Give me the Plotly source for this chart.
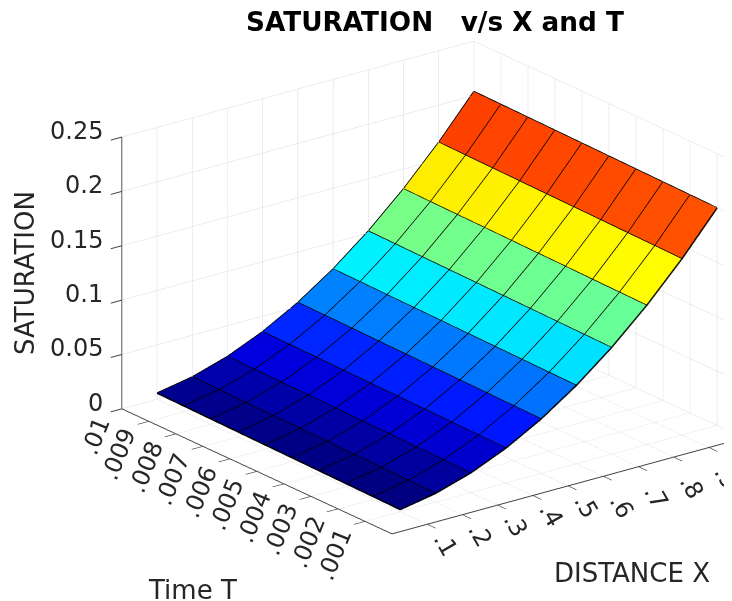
import math
import plotly.graph_objects as go

distance_x = [0.1, 0.2, 0.3, 0.4, 0.5, 0.6, 0.7, 0.8, 0.9, 1.0]
time_t = [0.001, 0.002, 0.003, 0.004, 0.005, 0.006, 0.007, 0.008, 0.009, 0.010]
# saturation[t_index][x_index]
saturation = [
    [0.0020, 0.0080, 0.0180, 0.0320, 0.0500, 0.0720, 0.0980, 0.1280, 0.1620, 0.2000],
    [0.0024, 0.0084, 0.0184, 0.0324, 0.0504, 0.0724, 0.0984, 0.1284, 0.1624, 0.2004],
    [0.0028, 0.0088, 0.0188, 0.0328, 0.0508, 0.0728, 0.0988, 0.1288, 0.1628, 0.2008],
    [0.0032, 0.0092, 0.0192, 0.0332, 0.0512, 0.0732, 0.0992, 0.1292, 0.1632, 0.2012],
    [0.0036, 0.0096, 0.0196, 0.0336, 0.0516, 0.0736, 0.0996, 0.1296, 0.1636, 0.2016],
    [0.0040, 0.0100, 0.0200, 0.0340, 0.0520, 0.0740, 0.1000, 0.1300, 0.1640, 0.2020],
    [0.0044, 0.0104, 0.0204, 0.0344, 0.0524, 0.0744, 0.1004, 0.1304, 0.1644, 0.2024],
    [0.0048, 0.0108, 0.0208, 0.0348, 0.0528, 0.0748, 0.1008, 0.1308, 0.1648, 0.2028],
    [0.0052, 0.0112, 0.0212, 0.0352, 0.0532, 0.0752, 0.1012, 0.1312, 0.1652, 0.2032],
    [0.0056, 0.0116, 0.0216, 0.0356, 0.0536, 0.0756, 0.1016, 0.1316, 0.1656, 0.2036],
]
x_ticks = [0.1, 0.2, 0.3, 0.4, 0.5, 0.6, 0.7, 0.8, 0.9]
x_tick_labels = [".1", ".2", ".3", ".4", ".5", ".6", ".7", ".8", ".9"]
x_label_drop = [20, 20, 20, 20, 20, 30, 30, 30, 30]
t_ticks = [0.001, 0.002, 0.003, 0.004, 0.005, 0.006, 0.007, 0.008, 0.009, 0.01]
t_tick_labels = [".001", ".002", ".003", ".004", ".005", ".006", ".007", ".008", ".009", ".01"]
z_ticks = [0, 0.05, 0.1, 0.15, 0.2, 0.25]
z_tick_labels = ["0", "0.05", "0.1", "0.15", "0.2", "0.25"]
title_text = "SATURATION   v/s X and T"

JET = [[0, "rgb(0,0,128)"], [0.125, "rgb(0,0,255)"], [0.375, "rgb(0,255,255)"],
       [0.625, "rgb(255,255,0)"], [0.875, "rgb(255,0,0)"], [1, "rgb(128,0,0)"]]

nt, nx = len(time_t), len(distance_x)
vx, vy, vz = [], [], []
for it in range(nt):
    for ix in range(nx):
        vx.append(distance_x[ix]); vy.append(time_t[it]); vz.append(saturation[it][ix])
I, J, K, cell = [], [], [], []
for it in range(nt - 1):
    for ix in range(nx - 1):
        a = it * nx + ix
        b, c, d = a + 1, a + nx + 1, a + nx
        I += [a, a]; J += [b, c]; K += [c, d]
        cell += [saturation[it][ix]] * 2

mesh = go.Mesh3d(x=vx, y=vy, z=vz, i=I, j=J, k=K, intensity=cell, intensitymode="cell",
                 colorscale=JET, cmin=min(vz), cmax=max(vz), showscale=False, flatshading=True,
                 lighting=dict(ambient=1, diffuse=0, specular=0, roughness=1, fresnel=0),
                 hoverinfo="skip")

lx, ly, lz = [], [], []
for it in range(nt):
    for ix in range(nx):
        lx.append(distance_x[ix]); ly.append(time_t[it]); lz.append(saturation[it][ix])
    lx.append(None); ly.append(None); lz.append(None)
for ix in range(nx):
    for it in range(nt):
        lx.append(distance_x[ix]); ly.append(time_t[it]); lz.append(saturation[it][ix])
    lx.append(None); ly.append(None); lz.append(None)
edges = go.Scatter3d(x=lx, y=ly, z=lz, mode="lines", line=dict(color="black", width=3),
                     hoverinfo="skip", showlegend=False)

fig = go.Figure([mesh, edges])

az = math.radians(37.5); el = math.radians(20.8)
a_, b_ = math.cos(az), math.sin(az)
d = (-b_ * math.cos(el), -a_ * math.cos(el), math.sin(el))
r = (a_, -b_, 0)
u = (math.sin(el) * b_, math.sin(el) * a_, math.cos(el))
scale = 1.477
S = 443.3
dist = 1.0
shift_r, shift_u = 87 / S, 31 / S
c = tuple(-shift_r * r[n] - shift_u * u[n] for n in range(3))
eye = tuple(c[n] + dist * d[n] for n in range(3))

GRID = "#dcdcdc"; AX = "#404040"; FONT = "DejaVu Sans"; TXT = "#262626"
def axis(vals, text, rng):
    return dict(range=rng, tickmode="array", tickvals=vals, ticktext=text, title=dict(text=""),
                showgrid=True, gridcolor=GRID, gridwidth=1, showline=True, linecolor=AX, linewidth=2,
                ticks="outside", ticklen=14, tickcolor=AX, tickwidth=2, showbackground=False,
                zeroline=False, showspikes=False, showticklabels=False)

labels = []
for v, t in zip(t_ticks, t_tick_labels):
    n = 4 - len(t)
    labels.append(dict(x=0, y=v, z=0, text=t, showarrow=False, textangle=-68,
                       xshift=-30 + 3.6 * n, yshift=-33 + 6.3 * n,
                       font=dict(family=FONT, size=24, color=TXT)))
for v, t, drop in zip(x_ticks, x_tick_labels, x_label_drop):
    labels.append(dict(x=v, y=0, z=0, text=t, showarrow=False, textangle=60, xshift=18, yshift=-drop,
                       font=dict(family=FONT, size=24, color=TXT)))
for v, t in zip(z_ticks, z_tick_labels):
    labels.append(dict(x=0, y=0.01, z=v, text=t, showarrow=False, xanchor="right", xshift=-17, yshift=6,
                       font=dict(family=FONT, size=24, color=TXT)))

def note(text, px, py, angle=0):
    return dict(text=text, x=(px - 8) / 732, y=1 - (py - 8) / 601, xref="paper", yref="paper", showarrow=False,
                xanchor="center", yanchor="middle", textangle=angle,
                font=dict(family=FONT, size=26, color=TXT))

fig.update_layout(
    width=732, height=601, margin=dict(l=0, r=0, t=0, b=0), paper_bgcolor="white",
    title=dict(text="<b>%s</b>" % title_text, x=427 / 732, xanchor="center", y=1 - 14 / 601, yanchor="middle",
               font=dict(family=FONT, size=26.3, color="black")),
    scene=dict(
        domain=dict(x=[0, 1], y=[0, 1]),
        xaxis=axis(x_ticks, x_tick_labels, [0, 1]),
        yaxis=axis(t_ticks, t_tick_labels, [0, 0.01]),
        zaxis=axis(z_ticks, z_tick_labels, [0, 0.25]),
        aspectmode="manual", aspectratio=dict(x=scale, y=scale, z=0.655 * scale),
        camera=dict(projection=dict(type="orthographic"), up=dict(x=0, y=0, z=1),
                    center=dict(x=c[0], y=c[1], z=c[2]), eye=dict(x=eye[0], y=eye[1], z=eye[2])),
        annotations=labels,
    ),
    annotations=[
        note("Time T", 192, 590),
        note("DISTANCE X", 632, 573),
        note("SATURATION", 25, 273, -90),
    ],
)
fig.write_html("out.html")
